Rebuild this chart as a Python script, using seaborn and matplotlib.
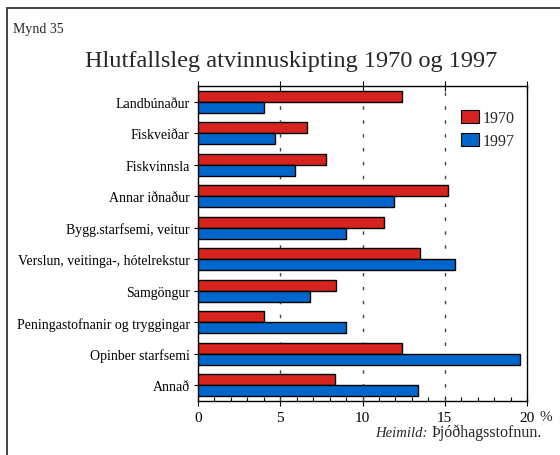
import matplotlib
matplotlib.use("Agg")
import matplotlib.pyplot as plt
from matplotlib.patches import Rectangle, Patch
from matplotlib.ticker import MultipleLocator
import pandas as pd
import seaborn as sns

categories = [
    "Landbúnaður",
    "Fiskveiðar",
    "Fiskvinnsla",
    "Annar iðnaður",
    "Bygg.starfsemi, veitur",
    "Verslun, veitinga-, hótelrekstur",
    "Samgöngur",
    "Peningastofnanir og tryggingar",
    "Opinber starfsemi",
    "Annað",
]
share_1970 = [12.4, 6.6, 7.8, 15.2, 11.3, 13.5, 8.4, 4.0, 12.4, 8.3]
share_1997 = [4.0, 4.7, 5.9, 11.9, 9.0, 15.6, 6.8, 9.0, 19.6, 13.4]
years = ["1970", "1997"]
x_ticks = [0, 5, 10, 15, 20]

df = pd.DataFrame({
    "grein": categories * 2,
    "hlutfall": share_1970 + share_1997,
    "ar": [years[0]] * len(categories) + [years[1]] * len(categories),
})

sns.set_theme(style="white")
plt.rcParams["font.family"] = ["Liberation Serif", "DejaVu Serif"]

colors = {"1970": "#d7231e", "1997": "#0066cc"}

fig = plt.figure(figsize=(5.6, 4.56), dpi=100)
ax = fig.add_axes([198 / 560, 1 - 402 / 456, 329 / 560, 315 / 456])

sns.barplot(data=df, y="grein", x="hlutfall", hue="ar", order=categories,
            hue_order=years, palette=colors, orient="h", width=0.7,
            edgecolor="black", linewidth=1.0, saturation=1, ax=ax,
            legend=False, zorder=3)

ax.set_xlim(0, 20)
ax.set_ylim(len(categories) - 0.5, -0.5)
ax.set_xticks(x_ticks)
ax.set_xticklabels([str(t) for t in x_ticks], fontsize=11)
ax.xaxis.set_minor_locator(MultipleLocator(1))
ax.set_xlabel("")
ax.set_ylabel("")
ax.tick_params(axis="y", labelsize=10, length=3, width=0.8, direction="out",
               left=True, pad=3, colors="black")
ax.tick_params(axis="x", which="major", direction="inout", length=7, width=0.8,
               bottom=True, top=True, pad=4, colors="black")
ax.tick_params(axis="x", which="minor", direction="in", length=3, width=0.8,
               bottom=True, top=False, colors="black")

for v in x_ticks[1:-1]:
    ax.axvline(v, color="#444444", linewidth=1.0, linestyle=(0, (2.5, 7.5)), zorder=1)

for s in ax.spines.values():
    s.set_color("black")
    s.set_linewidth(1.0)

handles = [Patch(facecolor=colors[y], edgecolor="black", linewidth=0.8) for y in years]
ax.legend(handles, years, loc="upper left", bbox_to_anchor=(0.78, 0.945),
          frameon=False, fontsize=11.5, handlelength=1.15, handleheight=0.85,
          handletextpad=0.2, labelspacing=0.45, borderaxespad=0)

fig.text(13 / 560, 1 - 30 / 456, "Mynd 35", fontsize=10, va="center", ha="left")
fig.text(291 / 560, 1 - 62 / 456, "Hlutfallsleg atvinnuskipting 1970 og 1997",
         fontsize=17.5, va="center", ha="center")
fig.text(540 / 560, 1 - 418 / 456, "%", fontsize=11, va="center", ha="left")
fig.text(431 / 560, 1 - 437 / 456, "Þjóðhagsstofnun.", fontsize=11.5,
         va="baseline", ha="left")
fig.text(428 / 560, 1 - 437 / 456, "Heimild:", fontsize=10.5, style="italic",
         va="baseline", ha="right")

fig.patches.append(Rectangle((7 / 560, -0.1), 1.2, 1 - 9 / 456 + 0.1,
                             transform=fig.transFigure, fill=False,
                             edgecolor="#333333", linewidth=1.3, clip_on=False))

fig.savefig("out.png", dpi=100)
